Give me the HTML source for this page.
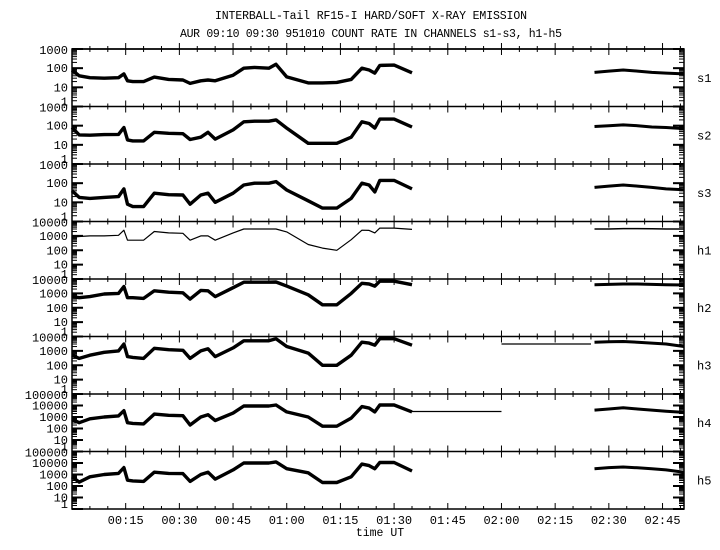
<!DOCTYPE html>
<html><head><meta charset="utf-8"><style>
html,body{margin:0;padding:0;background:#fff;}
svg{display:block;font-family:"Liberation Mono",monospace;}
</style></head><body>
<svg id="chart" width="720" height="550" viewBox="0 0 720 550" xmlns="http://www.w3.org/2000/svg">
<text x="371" y="19" font-size="11.5" text-anchor="middle" textLength="312">INTERBALL-Tail RF15-I HARD/SOFT X-RAY EMISSION</text>
<text x="371" y="37" font-size="11.5" text-anchor="middle" textLength="382">AUR 09:10 09:30 951010  COUNT RATE IN CHANNELS s1-s3, h1-h5</text>
<text x="380" y="536" font-size="11.5" text-anchor="middle">time UT</text>
<g id="g"></g>
</svg>
<script>
// time grid (minutes after 00:00 UT)
const times1 = [0,2,5,9,13,14.5,15.5,17,20,23,27,31,33,36,38,40,45,48,51,55,57,60,66,70,74,78,81,83,84.6,86,90,95];
const times2 = [146,150,154,158,162,166,171];
const panelNames = ["s1","s2","s3","h1","h2","h3","h4","h5"];
const panelDecades = [3,3,3,4,4,4,5,5];
const s1 = [80,40,32,30,32,50,22,20,20,34,26,24,16,22,24,22,43,100,110,100,160,35,17,17,18,26,100,80,55,140,145,57];
const s2 = [80,33,32,34,35,80,18,16,16,45,40,38,19,25,45,20,60,160,170,170,200,75,12,12,12,25,160,130,75,220,220,85];
const s3 = [40,18,16,18,20,50,8,6,6,30,25,24,8,24,30,10,30,80,100,100,120,44,12,5,5,16,100,80,35,140,140,50];
const h1 = [800,900,1000,1000,1100,2500,500,500,500,2000,1600,1500,500,1000,1000,500,1600,3000,3000,3000,3000,1900,250,140,100,540,2500,2400,1600,3500,3500,2800];
const h2 = [600,500,600,900,1000,3000,500,500,450,1500,1200,1100,400,1600,1500,600,2500,6000,6000,6000,6200,3200,800,160,160,1000,5000,4500,3200,7000,7000,4000];
const h3 = [500,300,500,800,1000,3000,400,350,300,1500,1200,1100,300,1000,1400,400,1600,5000,5000,5000,7000,2000,700,100,100,500,4000,3500,2500,7000,7000,2500];
const h4 = [630,320,700,1000,1250,3500,320,280,250,1800,1400,1300,200,1000,1600,500,2200,9000,9000,9000,11000,2800,1000,160,160,800,8000,6000,2800,11000,11000,2800];
const h5 = [630,220,630,1000,1250,4000,320,280,250,1600,1250,1200,250,1000,1600,400,2500,10000,10000,10000,12500,3200,1400,200,200,630,8000,6000,3200,11000,11000,2000];
const after = [
 [60,70,80,70,60,55,50],
 [90,100,110,100,85,80,70],
 [60,70,80,70,60,50,45],
 [3000,3000,3200,3200,3100,3000,3000],
 [4000,4200,4500,4500,4200,4000,3800],
 [4000,4300,4500,4000,3500,3000,2000],
 [4000,5000,6300,5000,4000,3200,2500],
 [3200,4000,4500,3800,3200,2500,1600]
];
const series = [s1,s2,s3,h1,h2,h3,h4,h5];
// flat fill segments
const flatPanels = [5,6];
const flatStart = [120,95];
const flatEnd = [145,120];
const flatValue = [3000,3000];
const tickMinutes = [15,30,45,60,75,90,105,120,135,150,165];
const tickLabels = ["00:15","00:30","00:45","01:00","01:15","01:30","01:45","02:00","02:15","02:30","02:45"];

const L=72,R=684,TOP=49,BOT=509,NP=8,PH=(BOT-TOP)/NP,TMAX=171;
const NS="http://www.w3.org/2000/svg";
const g=document.getElementById('g');
function xs(t){return L+(t/TMAX)*(R-L);}
function ys(p,v){const top=TOP+p*PH;return top+(panelDecades[p]-Math.log10(v))/panelDecades[p]*PH;}
function mk(tag,attrs,parent){const e=document.createElementNS(NS,tag);for(const k in attrs)e.setAttribute(k,attrs[k]);(parent||g).appendChild(e);return e;}

const frame=mk('rect',{x:L,y:TOP,width:R-L,height:BOT-TOP,fill:'none',stroke:'#000','stroke-width':1.5});



for(let p=0;p<NP;p++){
  const top=TOP+p*PH,bot=top+PH;
  const pg=mk('g',{});
  
  
  mk('line',{x1:L,x2:R,y1:top,y2:top,stroke:'#000','stroke-width':1.5},pg);
  for(let t=5;t<TMAX;t+=5){
    const len=(t%15===0)?6:3;const x=xs(t);
    mk('line',{x1:x,x2:x,y1:top,y2:top+len,stroke:'#000','stroke-width':1},pg);
    mk('line',{x1:x,x2:x,y1:top,y2:top-len,stroke:'#000','stroke-width':1},pg);
    if(p===NP-1) mk('line',{x1:x,x2:x,y1:bot,y2:bot-len,stroke:'#000','stroke-width':1},pg);
  }
  const D=panelDecades[p];
  for(let d=0;d<=D;d++){
    const yv=ys(p,Math.pow(10,d));
    mk('line',{x1:L,x2:L+11,y1:yv,y2:yv,stroke:'#000','stroke-width':2},pg);
    mk('line',{x1:R,x2:R-11,y1:yv,y2:yv,stroke:'#000','stroke-width':2},pg);
    if(d<D){for(let m=2;m<=9;m++){const yy=ys(p,m*Math.pow(10,d));
      mk('line',{x1:L,x2:L+5,y1:yy,y2:yy,stroke:'#000','stroke-width':1},pg);
      mk('line',{x1:R,x2:R-5,y1:yy,y2:yy,stroke:'#000','stroke-width':1},pg);}}
    const lab=mk('text',{x:L-4,y:d===0?yv-1:(d===D?yv+5:yv+4),'font-size':12,'text-anchor':'end'},pg);
    lab.textContent=String(Math.pow(10,d));
    
    
  }
  const pl=mk('text',{x:697,y:top+PH/2+4,'font-size':12},pg);
  pl.textContent=panelNames[p];
  
  
  const sw=(p===3)?1.2:3.4;
  const d1=times1.map((t,i)=>(i?'L':'M')+xs(t).toFixed(1)+','+ys(p,series[p][i]).toFixed(1)).join('');
  const l1=mk('path',{d:d1,fill:'none',stroke:'#000','stroke-width':sw,'stroke-linejoin':'round'},pg);
  
  
  const d2=times2.map((t,i)=>(i?'L':'M')+xs(t).toFixed(1)+','+ys(p,after[p][i]).toFixed(1)).join('');
  const l2=mk('path',{d:d2,fill:'none',stroke:'#000','stroke-width':(p===3?1.5:3),'stroke-linejoin':'round'},pg);
  
  
}
for(let i=0;i<flatPanels.length;i++){
  const p=flatPanels[i];
  const fl=mk('line',{x1:xs(flatStart[i]),x2:xs(flatEnd[i]),y1:ys(p,flatValue[i]),y2:ys(p,flatValue[i]),stroke:'#000','stroke-width':1.2});
  
  
}
for(let i=0;i<tickMinutes.length;i++){
  const tl=mk('text',{x:xs(tickMinutes[i]),y:524,'font-size':12,'text-anchor':'middle'});
  tl.textContent=tickLabels[i];
  
  
}
</script>
</body></html>
